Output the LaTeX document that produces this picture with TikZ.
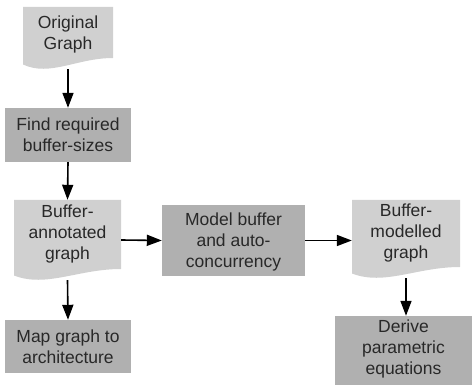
\documentclass[tikz,border=0pt]{standalone}
\usepackage{fontspec}
\setmainfont{Liberation Sans}
\usetikzlibrary{arrows.meta,calc}
\definecolor{docfill}{RGB}{208,208,208}
\definecolor{procfill}{RGB}{176,176,176}
\definecolor{inktext}{RGB}{40,40,40}

\begin{document}
\begin{tikzpicture}[x=1pt,y=-1pt,
  every node/.style={font=\fontsize{17.5}{21}\selectfont, text=inktext,
    align=center, inner sep=0pt, shape=rectangle},
  procbox/.style={fill=procfill},
  % document shape: flat top, wavy bottom edge (dip on the left, rise on the right)
  docbox/.style={text depth=15pt,
    path picture={
      \coordinate (pa) at (path picture bounding box.south west);
      \coordinate (pb) at (path picture bounding box.south east);
      \fill[docfill] (path picture bounding box.north west)
        -- (path picture bounding box.north east)
        -- ([yshift=11pt]pb)
        .. controls ([yshift=11pt]$(pa)!0.6!(pb)$) and ([yshift=-8pt]$(pa)!0.3!(pb)$)
        .. ([yshift=4.5pt]pa) -- cycle;
    }},
  flow/.style={draw=black, line width=1.6pt, -{Triangle[length=15pt,width=11pt]}}
]
\useasboundingbox (0,0) rectangle (472,385);

% documents
\node[docbox, text depth=10pt, minimum width=90pt, minimum height=62pt] (orig) at (68,38) {Original\\Graph};
\node[docbox, minimum width=107pt, minimum height=80pt] (anno) at (67.5,240) {Buffer-\\annotated\\graph};
\node[docbox, minimum width=108pt, minimum height=78pt] (modl) at (406,239) {Buffer-\\modelled\\graph};

% processing steps
\node[procbox, minimum width=126pt, minimum height=54pt] (find) at (68,135) {Find required\\buffer-sizes};
\node[procbox, text depth=0pt, minimum width=143pt, minimum height=71pt] (model) at (233.5,240.5) {Model buffer\\and auto-\\concurrency};
\node[procbox, minimum width=126pt, minimum height=53pt] (map) at (68,346.5) {Map graph to\\architecture};
\node[procbox, text depth=7.5pt, minimum width=137pt, minimum height=69pt] (derive) at (403.5,350.5) {Derive\\parametric\\equations};

% flow
\draw[flow] (orig.south) -- (find.north);
\draw[flow] (find.south) -- (anno.north);
\draw[flow] (anno.south) -- (map.north);
\draw[flow] (anno.east) -- (model.west);
\draw[flow] (model.east) -- (model.east -| modl.west);
\draw[flow] (modl.south) -- (derive.north -| modl.south);
\end{tikzpicture}
\end{document}
